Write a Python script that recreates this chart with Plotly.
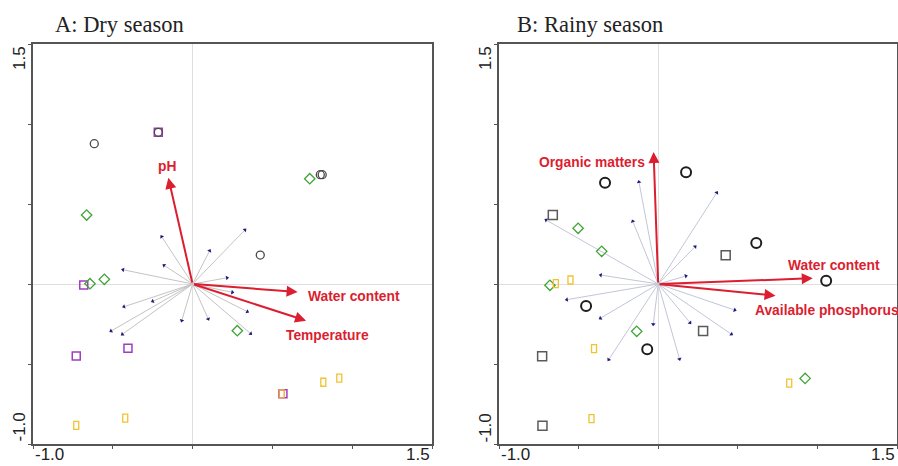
import numpy as np
import plotly.graph_objects as go

# ---------------- data ----------------
# Panel A: Dry season
A_circle_x = [-0.616, -0.215, 0.800, 0.812, 0.424]
A_circle_y = [0.877, 0.948, 0.683, 0.683, 0.181]
A_square_x = [-0.215, -0.682, -0.729, -0.405, 0.566]
A_square_y = [0.948, -0.006, -0.450, -0.402, -0.686]
A_diamond_x = [-0.664, -0.643, -0.553, 0.734, 0.280]
A_diamond_y = [0.431, 0.002, 0.029, 0.658, -0.292]
A_rect_x = [-0.729, -0.422, 0.558, 0.819, 0.919]
A_rect_y = [-0.883, -0.838, -0.686, -0.614, -0.588]
A_rect_col = ["#f2c230", "#f2c230", "#f0a040", "#f2c230", "#f2c230"]
A_species_x = [0.328, -0.194, 0.107, -0.179, -0.436, 0.216, 0.249, 0.343,
               0.364, 0.098, -0.068, -0.250, -0.430, -0.511, -0.440]
A_species_y = [0.338, 0.296, 0.208, 0.117, 0.089, 0.039, -0.052, -0.173,
               -0.310, -0.219, -0.229, -0.108, -0.142, -0.294, -0.314]
A_env_names = ["pH", "Water content", "Temperature"]
A_env_x = [-0.152, 0.658, 0.711]
A_env_y = [0.664, -0.050, -0.229]
A_env_lab_x = [-0.159, 0.711, 0.573]
A_env_lab_y = [0.733, -0.079, -0.319]
A_env_lab_anchor = ["center", "left", "left"]

# Panel B: Rainy season
B_circle_x = [-0.334, 0.175, 0.616, 1.055, -0.453, -0.069]
B_circle_y = [0.633, 0.698, 0.256, 0.021, -0.138, -0.408]
B_square_x = [-0.662, 0.424, 0.282, -0.729, -0.727]
B_square_y = [0.431, 0.179, -0.294, -0.452, -0.886]
B_diamond_x = [-0.503, -0.355, -0.680, -0.135, 0.923]
B_diamond_y = [0.348, 0.204, -0.008, -0.296, -0.590]
B_rect_x = [-0.643, -0.551, -0.403, 0.823, -0.419]
B_rect_y = [0.002, 0.025, -0.404, -0.619, -0.842]
B_species_x = [-0.121, 0.368, -0.704, -0.160, 0.232, 0.174, -0.361, -0.574,
               0.481, -0.363, -0.031, 0.200, 0.460, -0.311, 0.134]
B_species_y = [0.638, 0.571, 0.400, 0.392, 0.233, 0.050, 0.056, -0.098,
               -0.163, -0.214, -0.252, -0.242, -0.314, -0.473, -0.469]
B_env_names = ["Organic matters", "Water content", "Available phosphorus"]
B_env_x = [-0.029, 0.971, 0.737]
B_env_y = [0.825, 0.036, -0.073]
B_env_lab_x = [-0.069, 0.805, 0.598]
B_env_lab_y = [0.758, 0.114, -0.163]
B_env_lab_anchor = ["right", "left", "left"]

titles = ["A: Dry season", "B: Rainy season"]
axis_range = [-1.0, 1.5]
tick_vals = [-1.0, -0.5, 0.0, 0.5, 1.0, 1.5]
end_labels = ["-1.0", "1.5"]

# ---------------- figure ----------------
W, H = 898, 466
fig = go.Figure()

RED = "#db1e30"
NAVY = "#1c1c7a"


def add_panel(xa, ya, circ, sq, dia, rect, rect_cols, spx, spy, env, env_lab,
              line_col, circ_style, sq_col, sq_size):
    # species lines
    lx, ly = [], []
    for x, y in zip(spx, spy):
        lx += [0, x, None]
        ly += [0, y, None]
    fig.add_trace(go.Scatter(x=lx, y=ly, mode="lines", xaxis=xa, yaxis=ya,
                             line=dict(color=line_col, width=1), hoverinfo="skip"))
    ang = np.degrees(np.arctan2(np.array(spx), np.array(spy)))
    fig.add_trace(go.Scatter(x=spx, y=spy, mode="markers", xaxis=xa, yaxis=ya,
                             marker=dict(symbol="triangle-up", size=4, color=NAVY,
                                         angle=ang, line=dict(width=0))))
    # squares
    fig.add_trace(go.Scatter(x=sq[0], y=sq[1], mode="markers", xaxis=xa, yaxis=ya,
                             marker=dict(symbol="square-open", size=sq_size, color=sq_col,
                                         line=dict(width=1.5, color=sq_col))))
    # circles
    fig.add_trace(go.Scatter(x=circ[0], y=circ[1], mode="markers", xaxis=xa, yaxis=ya,
                             marker=dict(symbol="circle-open", size=circ_style[0],
                                         color=circ_style[2],
                                         line=dict(width=circ_style[1], color=circ_style[2]))))
    # diamonds
    fig.add_trace(go.Scatter(x=dia[0], y=dia[1], mode="markers", xaxis=xa, yaxis=ya,
                             marker=dict(symbol="diamond-open", size=8, color="#3fa335",
                                         line=dict(width=1.3, color="#3fa335"))))
    # narrow yellow rectangles
    xr = "x" if xa == "x" else "x2"
    yr = "y" if ya == "y" else "y2"
    for x, y, c in zip(rect[0], rect[1], rect_cols):
        fig.add_shape(type="rect", xref=xr, yref=yr, xsizemode="pixel", ysizemode="pixel",
                      xanchor=x, yanchor=y, x0=-2.5, x1=2.5, y0=-4, y1=4,
                      line=dict(color=c, width=1.3), fillcolor="rgba(0,0,0,0)")
    # environmental arrows
    names, ex, ey = env
    for n, x, y in zip(names, ex, ey):
        fig.add_annotation(x=x, y=y, ax=0, ay=0, xref=xr, yref=yr, axref=xr, ayref=yr,
                           text="", showarrow=True, arrowhead=2, arrowsize=1.1,
                           arrowwidth=2, arrowcolor=RED, standoff=0)
    lx_, ly_, anc = env_lab
    for n, x, y, a in zip(names, lx_, ly_, anc):
        fig.add_annotation(x=x, y=y, xref=xr, yref=yr, text="<b>" + n + "</b>",
                           showarrow=False, xanchor=a, yanchor="middle",
                           font=dict(family="Liberation Sans, Arial", size=13.8, color=RED))


add_panel("x", "y", (A_circle_x, A_circle_y), (A_square_x, A_square_y),
          (A_diamond_x, A_diamond_y), (A_rect_x, A_rect_y), A_rect_col,
          A_species_x, A_species_y, (A_env_names, A_env_x, A_env_y),
          (A_env_lab_x, A_env_lab_y, A_env_lab_anchor),
          "#c4c4c4", (8, 1.3, "#4a4a4a"), "#a03cc0", 8)
add_panel("x2", "y2", (B_circle_x, B_circle_y), (B_square_x, B_square_y),
          (B_diamond_x, B_diamond_y), (B_rect_x, B_rect_y), ["#f2c230"] * len(B_rect_x),
          B_species_x, B_species_y, (B_env_names, B_env_x, B_env_y),
          (B_env_lab_x, B_env_lab_y, B_env_lab_anchor),
          "#c2c6d8", (10, 2, "#1e1e1e"), "#5a5a5a", 9)

y_dom = [(H - 444) / H, (H - 44) / H]
x_doms = [[33 / W, 432 / W], [499 / W, 897 / W]]

axis_common = dict(range=axis_range, showgrid=False, zeroline=True,
                   zerolinecolor="#dedede", zerolinewidth=1,
                   showline=True, mirror=True, linecolor="#555555", linewidth=1.5,
                   ticks="outside", ticklen=3, tickcolor="#555555", tickwidth=1,
                   tickvals=tick_vals, showticklabels=False, fixedrange=True)

fig.update_layout(
    width=W, height=H, margin=dict(l=0, r=0, t=0, b=0),
    paper_bgcolor="white", plot_bgcolor="white", showlegend=False,
    xaxis=dict(domain=x_doms[0], anchor="y", **axis_common),
    yaxis=dict(domain=y_dom, anchor="x", **axis_common),
    xaxis2=dict(domain=x_doms[1], anchor="y2", **axis_common),
    yaxis2=dict(domain=y_dom, anchor="x2", **axis_common),
)

lab_font = dict(family="Liberation Sans, Arial", size=17, color="#222222")
title_x = [53 / W, 515 / W]
ylab_x = [19 / W, 485 / W]
for i, (xr, yr) in enumerate([("x", "y"), ("x2", "y2")]):
    fig.add_annotation(text=titles[i], xref="paper", yref="paper", x=title_x[i],
                       y=(H - 10) / H, xanchor="left", yanchor="top", showarrow=False,
                       font=dict(family="Liberation Serif, Times New Roman", size=22.5,
                                 color="#222222"))
    # x end labels
    fig.add_annotation(text=end_labels[0], xref=xr + " domain", yref=yr + " domain",
                       x=0, y=0, xanchor="left", yanchor="top", yshift=1,
                       showarrow=False, font=lab_font)
    fig.add_annotation(text=end_labels[1], xref=xr + " domain", yref=yr + " domain",
                       x=1, y=0, xanchor="right", yanchor="top", yshift=1,
                       showarrow=False, font=lab_font)
    # y end labels (rotated)
    fig.add_annotation(text=end_labels[1], xref="paper", yref=yr + " domain",
                       x=ylab_x[i], y=1, xanchor="center", yanchor="top", textangle=-90,
                       showarrow=False, font=lab_font)
    fig.add_annotation(text=end_labels[0], xref="paper", yref=yr + " domain",
                       x=ylab_x[i], y=0, xanchor="center", yanchor="bottom", textangle=-90,
                       showarrow=False, font=lab_font)

fig.write_html("out.html")
